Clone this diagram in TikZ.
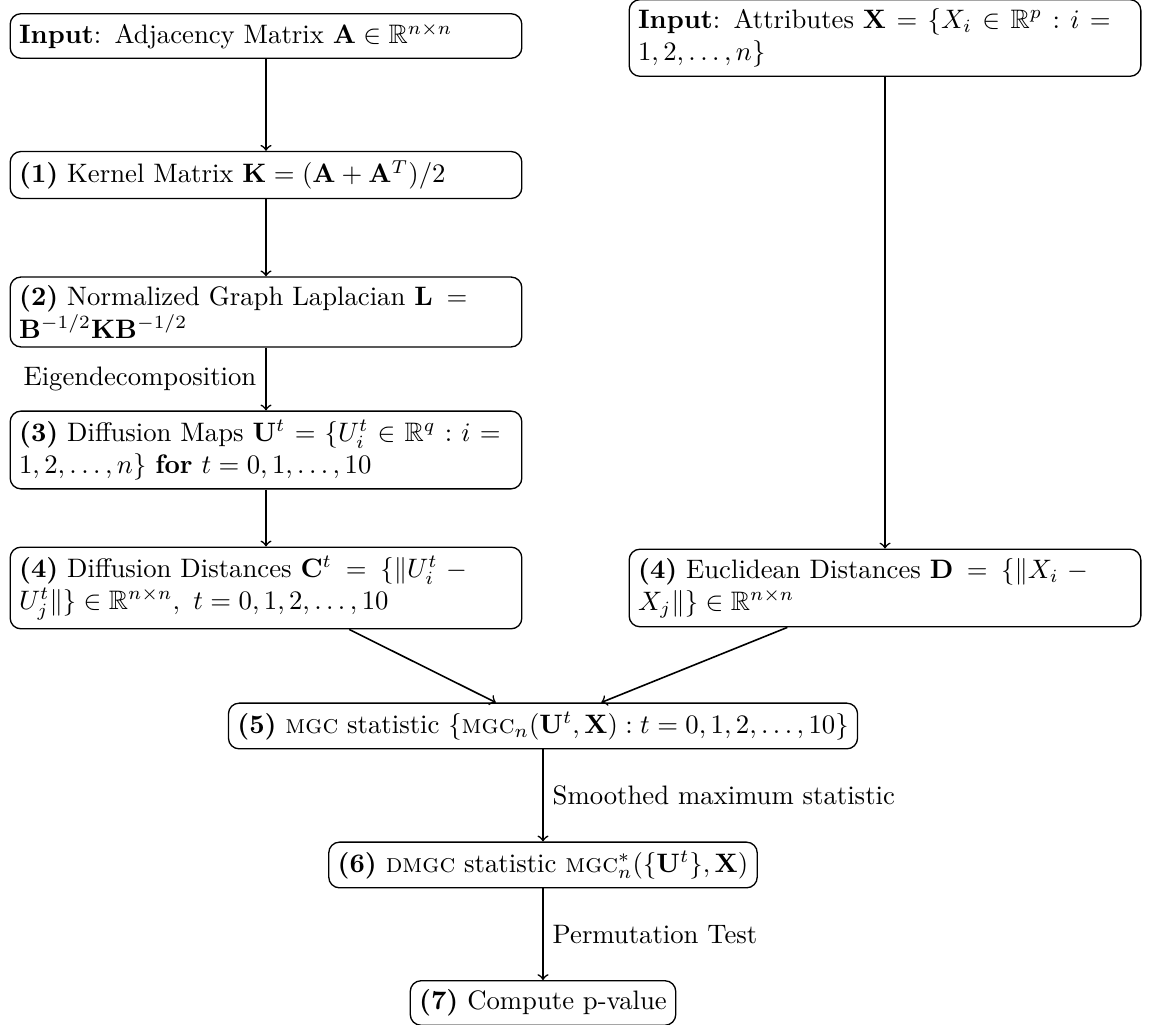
\documentclass[tikz,border=0pt]{standalone}
\usepackage{amsmath,amssymb}
\begin{document}
\begin{tikzpicture}[x=0.3745pt,y=-0.3745pt,
  widebox/.style={draw, line width=0.5pt, rounded corners, text width=6.5cm},
  smallbox/.style={draw, line width=0.5pt, rounded corners},
  arr/.style={->, semithick}]
\useasboundingbox (0,0) rectangle (1149,1025);
\node[widebox] (inA) at (266,36) {\textbf{Input}: Adjacency Matrix $\mathbf{A}\in\mathbb{R}^{n\times n}$};
\node[widebox] (k1) at (266,175) {\textbf{(1)} Kernel Matrix $\mathbf{K} = (\mathbf{A}+\mathbf{A}^T)/2$};
\node[widebox] (l2) at (266,312) {\textbf{(2)} Normalized Graph Laplacian $\mathbf{L} = \mathbf{B}^{-1/2}\mathbf{K}\mathbf{B}^{-1/2}$};
\node[widebox] (u3) at (266,450) {\textbf{(3)} Diffusion Maps $\mathbf{U}^t = \{U_i^t\in\mathbb{R}^q : i = 1,2,\ldots,n\}$ \textbf{for} $t=0,1,\ldots,10$};
\node[widebox] (c4) at (266,588) {\textbf{(4)} Diffusion Distances $\mathbf{C}^t = \{\|U_i^t - U_j^t\|\}\in\mathbb{R}^{n\times n},\ t=0,1,2,\ldots,10$};
\node[widebox] (inX) at (885,38) {\textbf{Input}: Attributes $\mathbf{X} = \{X_i\in\mathbb{R}^p : i = 1,2,\ldots,n\}$};
\node[widebox] (d4) at (885,588) {\textbf{(4)} Euclidean Distances $\mathbf{D} = \{\|X_i - X_j\|\}\in\mathbb{R}^{n\times n}$};
\node[smallbox] (mgc) at (543,726) {\textbf{(5)} \textsc{mgc} statistic $\{\textsc{mgc}_n(\mathbf{U}^t,\mathbf{X}) : t=0,1,2,\ldots,10\}$};
\node[smallbox] (dmgc) at (543,865) {\textbf{(6)} \textsc{dmgc} statistic $\textsc{mgc}^*_n(\{\mathbf{U}^t\},\mathbf{X})$};
\node[smallbox] (pv) at (543,1003) {\textbf{(7)} Compute p-value};
\draw[arr] (inA) -- (k1);
\draw[arr] (k1) -- (l2);
\draw[arr] (l2) -- node[left] {Eigendecomposition} (u3);
\draw[arr] (u3) -- (c4);
\draw[arr] (inX) -- (d4);
\draw[arr] (c4) -- (mgc);
\draw[arr] (d4) -- (mgc);
\draw[arr] (mgc) -- node[right] {Smoothed maximum statistic} (dmgc);
\draw[arr] (dmgc) -- node[right] {Permutation Test} (pv);
\end{tikzpicture}
\end{document}
